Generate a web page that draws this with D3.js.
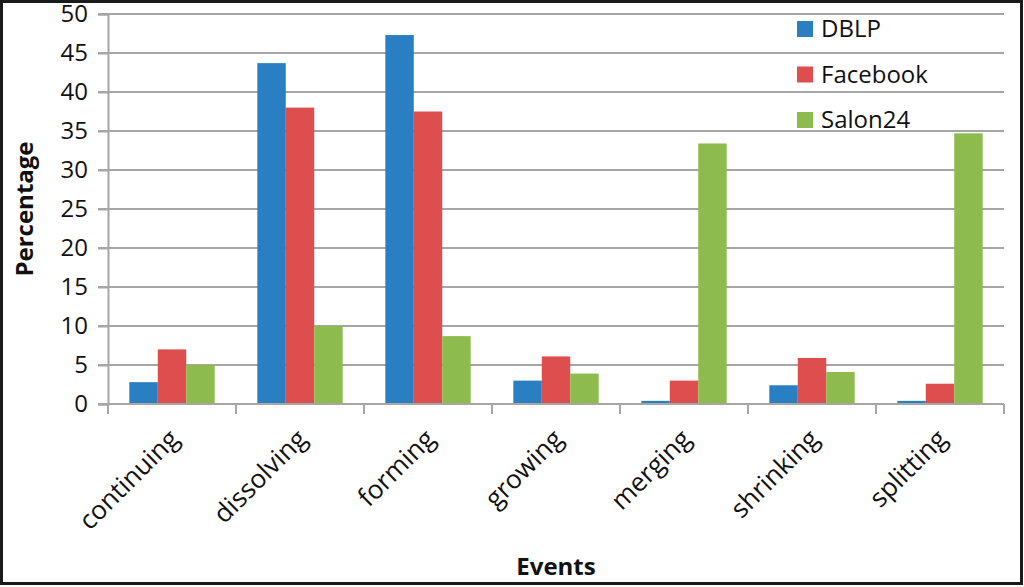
<!DOCTYPE html>
<html>
<head>
<meta charset="utf-8">
<script src="https://cdn.jsdelivr.net/npm/d3@7"></script>
<style>
  html, body { margin: 0; padding: 0; background: #fff; }
  svg { display: block; }
  text { font-family: "Open Sans", sans-serif; fill: #111; }
</style>
</head>
<body>
<svg id="chart" width="1024" height="587"></svg>
<script>
const categories = ["continuing", "dissolving", "forming", "growing", "merging", "shrinking", "splitting"];
const seriesNames = ["DBLP", "Facebook", "Salon24"];
const dblp = [2.8, 43.7, 47.3, 3.0, 0.4, 2.4, 0.4];
const facebook = [7.0, 38.0, 37.5, 6.1, 3.0, 5.9, 2.6];
const salon24 = [5.0, 10.0, 8.7, 3.9, 33.4, 4.1, 34.7];
const yTicks = [0, 5, 10, 15, 20, 25, 30, 35, 40, 45, 50];
const colors = ["#2A7EC2", "#DE4E4E", "#8DBB4E"];
const xTitle = "Events";
const yTitle = "Percentage";

const seriesValues = [dblp, facebook, salon24];

const svg = d3.select("#chart");

// frame
svg.append("rect").attr("x", 1.5).attr("y", 1.5).attr("width", 1020).attr("height", 582)
  .attr("fill", "#fff").attr("stroke", "#1a1a1a").attr("stroke-width", 3);

const plot = { left: 108, right: 1004, top: 14, bottom: 404 };

const x = d3.scaleBand().domain(categories).range([plot.left, plot.right]).paddingInner(0).paddingOuter(0);
const bandW = x.bandwidth();
const barW = bandW / 4.5;
const xs = d3.scaleBand().domain(seriesNames).range([0, barW * 3]);
const y = d3.scaleLinear().domain([0, 50]).range([plot.bottom, plot.top]);

// gridlines
svg.append("g").selectAll("line").data(yTicks.filter(d => d > 0)).join("line")
  .attr("x1", plot.left - 10).attr("x2", plot.right)
  .attr("y1", d => y(d)).attr("y2", d => y(d))
  .attr("stroke", "#a6a6a6").attr("stroke-width", 2);

// y axis
const yAxis = d3.axisLeft(y).tickValues(yTicks).tickSize(10).tickPadding(8);
const gy = svg.append("g").attr("transform", `translate(${plot.left},0)`).call(yAxis);
gy.select(".domain").attr("stroke", "#a6a6a6").attr("stroke-width", 2);
gy.selectAll(".tick line").attr("stroke", "#a6a6a6").attr("stroke-width", 2);
gy.selectAll(".tick text").attr("font-size", 24).attr("fill", "#111")
  .attr("font-family", "'Open Sans', sans-serif").attr("dx", -2);

// bars
const groups = svg.append("g").selectAll("g").data(categories).join("g")
  .attr("transform", d => `translate(${x(d) + (bandW - barW * 3) / 2},0)`);
groups.selectAll("rect").data((c, i) => seriesNames.map((s, k) => ({ s, k, v: seriesValues[k][i] })))
  .join("rect")
  .attr("x", d => xs(d.s))
  .attr("width", xs.bandwidth())
  .attr("y", d => y(d.v))
  .attr("height", d => y(0) - y(d.v))
  .attr("fill", d => colors[d.k]);

// x axis
const xAxis = d3.axisBottom(x).tickSize(0).tickFormat(d => d);
const gx = svg.append("g").attr("transform", `translate(0,${plot.bottom})`).call(xAxis);
gx.select(".domain").remove();
svg.append("line").attr("x1", plot.left - 10).attr("x2", plot.right)
  .attr("y1", plot.bottom).attr("y2", plot.bottom)
  .attr("stroke", "#a6a6a6").attr("stroke-width", 2);
// category boundary ticks
const bounds = categories.map(c => x(c)).concat([plot.right]);
svg.append("g").selectAll("line").data(bounds).join("line")
  .attr("x1", d => d).attr("x2", d => d)
  .attr("y1", plot.bottom).attr("y2", plot.bottom + 10)
  .attr("stroke", "#a6a6a6").attr("stroke-width", 2);
gx.selectAll(".tick text")
  .attr("font-size", 26).attr("fill", "#111")
  .attr("font-family", "'Open Sans', sans-serif")
  .attr("text-anchor", "end")
  .attr("transform", "translate(2,30) rotate(-45)")
  .attr("y", 0).attr("dy", "0.35em");

// axis titles
svg.append("text").attr("transform", `translate(33,${(plot.top + plot.bottom) / 2}) rotate(-90)`)
  .attr("text-anchor", "middle").attr("font-size", 24).attr("font-weight", "bold").text(yTitle);
svg.append("text").attr("x", 556).attr("y", 575)
  .attr("text-anchor", "middle").attr("font-size", 24).attr("font-weight", "bold").text(xTitle);

// legend
const legend = svg.append("g").attr("transform", "translate(797,21)");
const li = legend.selectAll("g").data(seriesNames).join("g")
  .attr("transform", (d, i) => `translate(0,${i * 45.5})`);
li.append("rect").attr("width", 16).attr("height", 16).attr("fill", (d, i) => colors[i]);
li.append("text").attr("x", 24).attr("y", 16).attr("font-size", 24).text(d => d);
</script>
</body>
</html>
